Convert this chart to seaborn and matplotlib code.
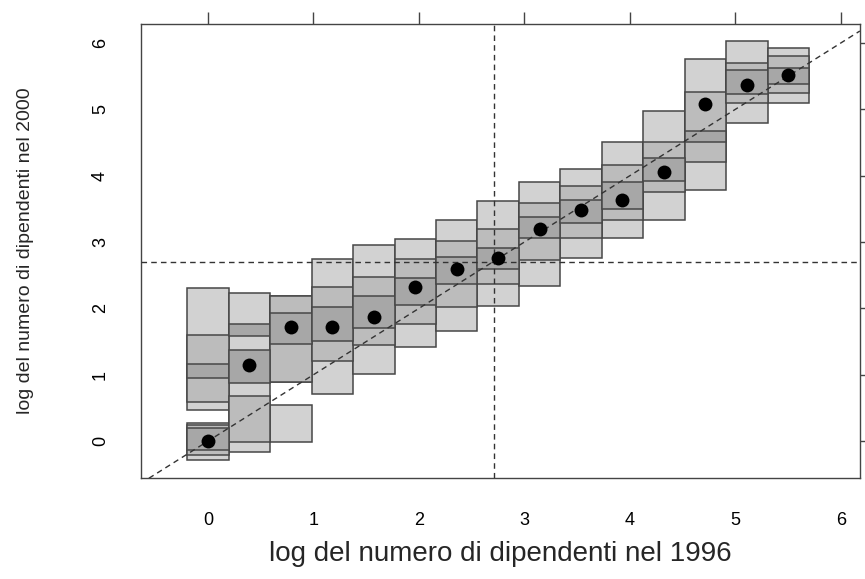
import numpy as np
import pandas as pd
import matplotlib.pyplot as plt
import seaborn as sns

sns.set_theme(style="white")
plt.rcParams['font.family'] = ['Liberation Sans', 'DejaVu Sans']

# bin centres (log employees 1996) and modal value of log employees 2000
bin_centers = [0.0, 0.393, 0.786, 1.179, 1.572, 1.965, 2.358, 2.751,
               3.144, 3.537, 3.930, 4.323, 4.716, 5.109, 5.502]
mode_2000 = [0.0, 1.15, 1.72, 1.72, 1.87, 2.32, 2.60, 2.76,
             3.19, 3.48, 3.63, 4.06, 5.08, 5.37, 5.52]

# highest density regions (lo, hi) for each bin
hdr_99 = [[(0.47, 2.31), (-0.28, 0.28)],
          [(-0.17, 2.23)],
          [(0.89, 2.19), (-0.01, 0.54)],
          [(0.71, 2.74)],
          [(1.01, 2.95)],
          [(1.42, 3.05)],
          [(1.66, 3.33)],
          [(2.03, 3.62)],
          [(2.33, 3.90)],
          [(2.76, 4.10)],
          [(3.06, 4.51)],
          [(3.33, 4.98)],
          [(3.78, 5.76)],
          [(4.79, 6.03)],
          [(5.10, 5.92)]]
hdr_95 = [[(0.59, 1.60), (-0.21, 0.24)],
          [(-0.01, 0.68)],
          [(0.89, 2.19)],
          [(1.20, 2.32)],
          [(1.45, 2.48)],
          [(1.76, 2.75)],
          [(2.02, 3.01)],
          [(2.37, 3.19)],
          [(2.73, 3.59)],
          [(3.06, 3.85)],
          [(3.33, 4.16)],
          [(3.76, 4.51)],
          [(4.20, 5.26)],
          [(5.09, 5.70)],
          [(5.24, 5.80)]]
hdr_50 = [[(0.95, 1.16), (-0.14, 0.19)],
          [(0.88, 1.37), (1.59, 1.76)],
          [(1.46, 1.93)],
          [(1.51, 2.02)],
          [(1.70, 2.18)],
          [(2.05, 2.46)],
          [(2.37, 2.78)],
          [(2.59, 2.91)],
          [(3.06, 3.38)],
          [(3.28, 3.63)],
          [(3.50, 3.91)],
          [(3.92, 4.27)],
          [(4.51, 4.68)],
          [(5.23, 5.60)],
          [(5.38, 5.63)]]

mean_1996 = 2.71
mean_2000 = 2.70


def to_frame(hdr):
    rows = []
    for x, intervals in zip(bin_centers, hdr):
        for lo, hi in intervals:
            rows.append({'x': x, 'lo': lo, 'hi': hi})
    return pd.DataFrame(rows)


fig, ax = plt.subplots(figsize=(8.65, 5.79), dpi=100)
fig.subplots_adjust(left=0.163, right=0.994, top=0.959, bottom=0.174)

width = bin_centers[1] - bin_centers[0]
shades = ['#d2d2d2', '#bcbcbc', '#a7a7a7']
for hdr, col in zip([hdr_99, hdr_95, hdr_50], shades):
    df = to_frame(hdr)
    ax.bar(df['x'], df['hi'] - df['lo'], bottom=df['lo'], width=width,
           color=col, edgecolor='#474747', linewidth=1.1, zorder=2)

sns.scatterplot(x=bin_centers, y=mode_2000, color='black', s=100,
                edgecolor='black', linewidth=0, zorder=5, ax=ax)

ax.axline((0, 0), slope=1, color='#333333', linestyle=(0, (4, 3)), lw=1.0, zorder=4)
ax.axvline(mean_1996, color='#333333', linestyle=(0, (4, 3)), lw=1.0, zorder=4)
ax.axhline(mean_2000, color='#333333', linestyle=(0, (4, 3)), lw=1.0, zorder=4)

ax.set_xlim(-0.635, 6.18)
ax.set_ylim(-0.56, 6.29)
ax.set_xticks(range(0, 7))
ax.set_yticks(range(0, 7))

for s in ax.spines.values():
    s.set_color('#444444')
    s.set_linewidth(1.0)

ax.tick_params(axis='both', direction='out', length=9, width=1.0, color='#444444',
               top=True, right=True, labeltop=False, labelright=False,
               labelsize=13, labelcolor='black')
ax.tick_params(axis='x', pad=15)
ax.tick_params(axis='y', pad=14)
plt.setp(ax.get_yticklabels(), rotation=90, va='center')

ax.set_xlabel('log del numero di dipendenti nel 1996', fontsize=20, labelpad=9)
ax.set_ylabel('log del numero di dipendenti nel 2000', fontsize=14, labelpad=42)
ax.grid(False)

fig.savefig('out.png', dpi=100)
